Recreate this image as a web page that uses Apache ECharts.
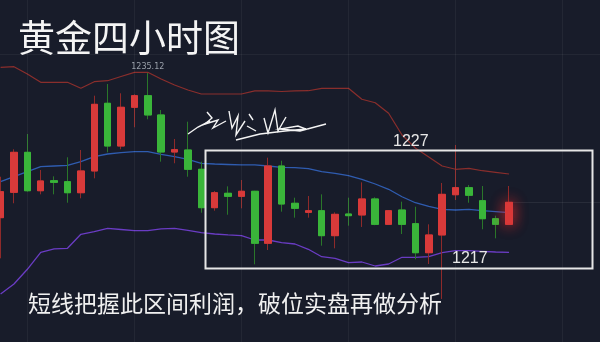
<!DOCTYPE html>
<html>
<head>
<meta charset="utf-8">
<script src="https://cdn.jsdelivr.net/npm/echarts@6/dist/echarts.min.js"></script>
<style>
html,body{margin:0;padding:0;background:#181c2a;}
#chart{width:600px;height:342px;}
</style>
</head>
<body>
<div id="chart"></div>
<script>
// ---- data ----
// [open, close, low, high]
const candles = [
  [1217.04,1220.29,1211.96,1222.16],
  [1220.21,1225.21,1218.84,1225.59],
  [1225.21,1220.41,1220.30,1227.50],
  [1220.41,1221.63,1219.96,1223.00],
  [1221.66,1221.46,1219.96,1222.21],
  [1221.54,1220.16,1218.91,1224.59],
  [1220.16,1222.88,1219.46,1225.50],
  [1222.88,1231.21,1221.96,1232.29],
  [1231.34,1226.00,1225.21,1233.75],
  [1226.00,1230.84,1225.59,1232.59],
  [1230.84,1232.29,1228.34,1232.46],
  [1232.29,1229.88,1229.34,1235.12],
  [1229.88,1225.25,1224.04,1230.50],
  [1225.25,1225.54,1223.84,1226.88],
  [1225.50,1223.09,1222.16,1229.04],
  [1223.09,1218.29,1217.66,1224.04],
  [1218.29,1220.16,1217.91,1220.38],
  [1220.09,1219.71,1217.41,1220.96],
  [1219.71,1220.34,1218.21,1221.75],
  [1220.34,1213.84,1211.21,1220.40],
  [1213.84,1223.50,1213.00,1224.54],
  [1223.50,1218.75,1217.79,1224.16],
  [1218.84,1218.21,1217.04,1219.54],
  [1217.71,1217.91,1217.04,1219.75],
  [1217.91,1214.79,1213.54,1219.96],
  [1214.79,1217.46,1213.21,1217.71],
  [1217.50,1217.29,1216.04,1219.54],
  [1217.38,1219.38,1215.88,1221.46],
  [1219.38,1216.21,1216.10,1219.59],
  [1216.21,1217.91,1216.15,1218.00],
  [1218.00,1216.21,1215.00,1219.04],
  [1216.29,1212.66,1211.84,1218.41],
  [1212.66,1214.88,1211.25,1216.21],
  [1214.88,1219.96,1206.88,1221.38],
  [1219.91,1220.79,1219.25,1226.13],
  [1220.79,1219.84,1218.91,1221.13],
  [1219.16,1216.91,1215.59,1221.00],
  [1216.91,1216.21,1214.46,1217.29],
  [1216.21,1218.96,1216.15,1221.00]
];
const upperBand = [1235.84,1235.91,1235.00,1233.96,1233.96,1233.96,1233.21,1234.04,1234.16,1234.69,1235.21,1235.21,1234.38,1233.63,1233.00,1232.50,1232.50,1232.50,1232.50,1232.88,1232.88,1232.81,1232.88,1232.91,1233.21,1233.21,1233.21,1231.84,1231.41,1230.09,1227.38,1225.75,1224.63,1223.50,1223.09,1223.21,1222.91,1222.71,1222.50];
const midBand = [1221.54,1222.16,1222.79,1223.41,1223.50,1223.59,1224.04,1224.66,1225.00,1225.16,1225.29,1225.29,1224.96,1224.66,1224.34,1223.84,1223.75,1223.69,1223.63,1223.63,1223.50,1223.34,1223.29,1223.16,1222.79,1222.59,1222.29,1221.84,1221.25,1220.59,1219.66,1218.91,1218.44,1218.09,1218.00,1218.09,1217.91,1217.79,1217.66];
const lowerBand = [1207.50,1208.75,1210.59,1212.71,1213.13,1213.21,1214.96,1215.29,1215.71,1215.56,1215.41,1215.41,1215.63,1215.71,1215.44,1215.16,1215.00,1214.88,1214.79,1214.25,1214.25,1213.91,1213.75,1213.09,1212.16,1211.96,1211.41,1211.50,1211.00,1211.25,1212.09,1212.09,1212.16,1212.66,1212.91,1212.91,1212.84,1212.75,1212.71];
const totalSlots = 46;
const gridCols = [2,10,18,26,34,42];
const gridRows = [1237.5];
const highLabel = '1235.12';
const highIndex = 11;
const boxTopLabel = '1227';
const boxBottomLabel = '1217';
const title = '黄金四小时图';
const note = '短线把握此区间利润，破位实盘再做分析';

// ---- build ----
const cats = Array.from({length: totalSlots}, (_, i) => String(i));
const bodies = candles.map((c, i) => {
  const v = [c[0], c[1], Math.min(c[0], c[1]), Math.max(c[0], c[1])];
  if (i === candles.length - 1) {
    return {value: v, itemStyle: {shadowBlur: 14, shadowColor: 'rgba(255,40,40,0.9)'}};
  }
  return v;
});
const last = candles[candles.length - 1];

const chart = echarts.init(document.getElementById('chart'), null, {renderer: 'canvas'});
const sigColor = '#f4f4f4';
const sig = [
  [[188,134],[198,127],[210,121]],
  [[207,112],[212,118],[205,124],[218,120],[213,128],[226,121]],
  [[229,111],[232,128],[238,116],[236,135],[245,121]],
  [[249,114],[253,120]],[[247,126],[256,131]],
  [[264,118],[268,133],[275,110],[278,131],[286,117]],
  [[236,140],[260,134],[285,131],[306,129],[298,126],[280,129],[300,131],[326,124]]
];
chart.setOption({
  backgroundColor: '#181c2a',
  animation: false,
  grid: {left: -6.1, top: 0, width: 615.5, height: 342, containLabel: false, outerBoundsMode: 'none'},
  xAxis: {type: 'category', data: cats, boundaryGap: true, show: false},
  yAxis: {type: 'value', min: 1201.5, max: 1244.25, show: false, splitLine: {show: false}},
  series: [
    {
      type: 'line', data: [], silent: true,
      markLine: {
        silent: true, symbol: 'none', label: {show: false},
        lineStyle: {color: 'rgba(255,255,255,0.05)', width: 1, type: 'solid'},
        data: gridCols.map(c => ({xAxis: c})).concat(gridRows.map(r => ({yAxis: r})))
      }
    },
    {
      type: 'line', data: upperBand, symbol: 'none', smooth: false,
      lineStyle: {color: '#8a2e2c', width: 1.2}, z: 3
    },
    {
      type: 'line', data: midBand, symbol: 'none', smooth: false,
      lineStyle: {color: '#2f5cb0', width: 1.3}, z: 3
    },
    {
      type: 'line', data: lowerBand, symbol: 'none', smooth: false,
      lineStyle: {color: '#6a3cc4', width: 1.3}, z: 3
    },
    {
      type: 'candlestick', data: candles, barWidth: 7, z: 4,
      itemStyle: {color: '#d83a3a', color0: '#3ab53a', borderColor: '#8e2a2a', borderColor0: '#2a772a', borderWidth: 1},
      markPoint: {
        symbol: 'circle', symbolSize: 0,
        label: {show: true, position: 'top', distance: 2, color: '#9aa0aa', fontSize: 8, fontFamily: 'DejaVu Sans', formatter: () => highLabel},
        data: [{coord: [highIndex, candles[highIndex][3]]}]
      },
      markLine: {
        silent: true, symbol: 'none', label: {show: false},
        lineStyle: {color: 'rgba(255,255,255,0.07)', width: 1, type: 'solid'},
        data: [[{coord: [candles.length - 1, last[1]]}, {coord: [totalSlots - 1, last[1]]}]]
      }
    },
    {
      type: 'candlestick', data: bodies, barWidth: 7, z: 5,
      itemStyle: {color: '#d83a3a', color0: '#3ab53a', borderColor: '#d83a3a', borderColor0: '#3ab53a', borderWidth: 1}
    }
  ],
  graphic: [
    {type: 'text', left: 18, top: 19, z: 100, style: {text: title, font: '37px "Noto Sans CJK SC"', fill: '#f4f4f4'}},
    {type: 'text', left: 28, top: 292, z: 100, style: {text: note, font: '23px "Noto Sans CJK SC"', fill: '#f0f0f0'}},
    {type: 'rect', z: 90, shape: {x: 205.5, y: 150.5, width: 387, height: 118}, style: {fill: null, stroke: '#e6e6e6', lineWidth: 2}},
    {type: 'text', left: 393, top: 134, z: 100, style: {text: boxTopLabel, font: '16px "Liberation Sans"', fill: '#e8e8e8'}},
    {type: 'text', left: 452, top: 251, z: 100, style: {text: boxBottomLabel, font: '16px "Liberation Sans"', fill: '#e8e8e8'}}
  ].concat(sig.map(p => ({type: 'polyline', z: 100, shape: {points: p}, style: {stroke: sigColor, lineWidth: 1.4, fill: null}})))
});
</script>
</body>
</html>
